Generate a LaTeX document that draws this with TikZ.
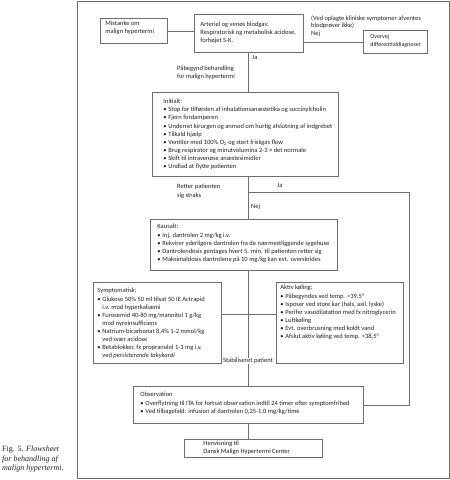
\documentclass[tikz,border=0pt]{standalone}
\usepackage{fontspec}
\setmainfont{Carlito}
\newfontfamily\capfont{Liberation Serif}
\definecolor{lg}{HTML}{6E6E6E}
\definecolor{tx}{HTML}{222222}
\tikzset{
 bx/.style={draw=lg, line width=0.9pt, inner sep=0pt, anchor=north west, text=tx, font=\fontsize{6.5}{8.1}\selectfont},
 ln/.style={draw=lg, line width=0.9pt},
 lbl/.style={inner sep=0pt, text=tx, align=left, font=\fontsize{6.5}{8.1}\selectfont},
}
% #1 left pad, #2 width, #3 height, #4 top pad, #5 content
\newcommand\bc[5]{\begin{minipage}[t][#3pt][t]{#2pt}\vspace*{#4pt}\raggedright\leftskip=#1pt\rightskip=-20pt plus 1fil\relax #5\end{minipage}}
\newcommand\itm[1]{\par\hangindent=5pt\hangafter=1\noindent\makebox[5pt][l]{\textbullet}#1}
\begin{document}
\begin{tikzpicture}[x=1pt,y=-1pt]
\useasboundingbox (0,0) rectangle (450,480);
\fill[white] (0,0) rectangle (450,480);
\draw[ln] (77,1) rectangle (449,478);

\node[bx] (mis) at (100,18) {\bc{5}{67}{25}{2.8}{Mistanke om\\malign hypertermi}};
\node[bx] (art) at (194,14) {\bc{6}{109}{38}{7.8}{Arteriel og venøs blodgas:\\Respiratorisk og metabolisk acidose,\\forhøjet S-K.}};
\node[bx, font=\fontsize{6}{8}\selectfont] (ov) at (363,30) {\bc{7}{64}{23}{3.8}{Overvej\\differentialdiagnoser}};
\node[bx] (init) at (152,92) {\bc{11}{186}{84}{6.8}{Initialt:%
\itm{Stop for tilførslen af inhalationsanæstetika og succinylcholin}%
\itm{Fjern fordamperen}%
\itm{Underret kirurgen og anmod om hurtig afslutning af indgrebet}%
\itm{Tilkald hjælp}%
\itm{Ventiler med 100\% O\textsubscript{2} og stort friskgas flow}%
\itm{Brug respirator og minutvolumina 2-3 × det normale}%
\itm{Skift til intravenøse anæstesimidler}%
\itm{Undlad at flytte patienten}}};
\node[bx] (kaus) at (150,219) {\bc{7}{187}{51}{5}{Kausalt:%
\itm{Inj. dantrolen 2 mg/kg i.v.}%
\itm{Rekvirer yderligere dantrolen fra de nærmestliggende sygehuse}%
\itm{Dantrolendosis gentages hvert 5. min. til patienten retter sig}%
\itm{Maksimaldosis dantrolene på 10 mg/kg kan evt. overskrides}}};
\node[bx] (sym) at (93,282) {\bc{4}{128}{81}{6}{Symptomatisk:%
\itm{Glukose 50\% 50 ml tilsat 50 IE Actrapid\newline i.v. mod hyperkaliæmi}%
\itm{Furosemid 40-80 mg/mannitol 1 g/kg\newline mod nyreinsufficiens}%
\itm{Natrium-bicarbonat 8,4\% 1-2 mmol/kg\newline ved svær acidose}%
\itm{Betablokker, fx propranolol 1-3 mg i.v.\newline ved \textit{persisterende takykardi}}}};
\node[bx] (akt) at (276,282) {\bc{4}{127}{81}{3}{Aktiv køling:%
\itm{Påbegyndes ved temp. >39,5°}%
\itm{Isposer ved store kar (hals, axil, lyske)}%
\itm{Perifer vasodilatation med fx nitroglycerin}%
\itm{Luftkøling}%
\itm{Evt. overbrusning med koldt vand}%
\itm{Afslut aktiv køling ved temp. <38,5°}}};
\node[bx] (obs) at (133,386) {\bc{7}{230}{37}{6}{Observation%
\itm{Overflytning til ITA for fortsat observation indtil 24 timer efter symptomfrihed}%
\itm{Ved tilbagefald: infusion af dantrolen 0,25-1,0 mg/kg/time}}};
\node[bx] (henv) at (184,439) {\bc{19}{138}{18}{1.4}{Henvisning til\\Dansk Malign Hypertermi Center}};

\coordinate (cx) at (248,0);
\coordinate (c1) at (248,192);
\coordinate (jr) at (409,192);
\coordinate (hy) at (248,314);

\draw[ln] (mis.east) -- (mis.east -| art.west);
\draw[ln] (ov.west -| art.east) -- (ov.west);
\draw[ln] (cx |- art.south) -- (cx |- init.north);
\draw[ln] (cx |- init.south) -- (cx |- kaus.north);
\draw[ln] (c1) -- (jr) -- (jr |- obs.east) -- (obs.east);
\draw[ln] (cx |- kaus.south) -- (cx |- obs.north);
\draw[ln] (sym.east |- hy) -- (akt.west |- hy);
\draw[ln] (cx |- obs.south) -- (cx |- henv.north);

\node[lbl, anchor=north west, font=\fontsize{6.5}{7.4}\selectfont] (vedl) at (311,15.3) {(Ved oplagte kliniske symptomer afventes\\blodprøver ikke)\\Nej};
\node[lbl, anchor=west] (ja1) at (252,57) {Ja};
\node[lbl, anchor=north west] (pab) at (177,65.8) {Påbegynd behandling\\for malign hypertermi};
\node[lbl, anchor=west] (ja2) at (277,185) {Ja};
\node[lbl, anchor=north west] (ret) at (177,184.3) {Retter patienten\\sig straks};
\node[lbl, anchor=west] (nej2) at (251,207) {Nej};
\node[lbl, fill=white, inner xsep=1pt, inner ysep=0.5pt] (stab) at (248,361) {Stabiliseret patient};

\node[inner sep=0pt, anchor=north west, align=left, text=tx, font=\capfont\fontsize{8}{9.5}\selectfont] (cap) at (2,446) {Fig. 5. \textit{Flowsheet}\\\textit{for behandling af}\\\textit{malign hypertermi.}};
\end{tikzpicture}
\end{document}
